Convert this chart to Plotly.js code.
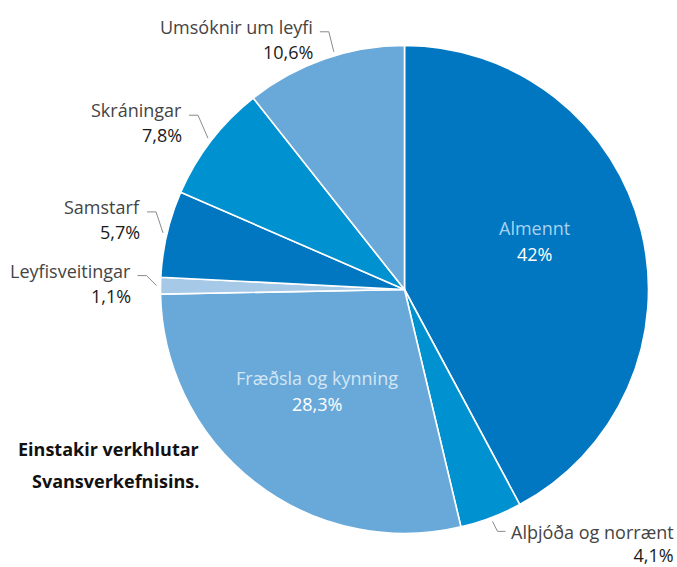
<!DOCTYPE html>
<html>
<head>
<meta charset="utf-8">
<script src="https://cdn.plot.ly/plotly-3.0.1.min.js"></script>
<style>
  html, body { margin: 0; padding: 0; background: #fff; }
  #chart { width: 677px; height: 567px; }
</style>
</head>
<body>
<div id="chart"></div>
<script>
var categories = ['Almennt', 'Alþjóða og norrænt', 'Fræðsla og kynning', 'Leyfisveitingar', 'Samstarf', 'Skráningar', 'Umsóknir um leyfi'];
var shares = [42, 4.1, 28.3, 1.1, 5.7, 7.8, 10.6];
var shareLabels = ['42%', '4,1%', '28,3%', '1,1%', '5,7%', '7,8%', '10,6%'];
var titleLines = ['Einstakir verkhlutar', 'Svansverkefnisins.'];

var sliceColors = ['#0077c0', '#0091d0', '#69a9d9', '#a6c9e8', '#0077c0', '#0091d0', '#69a9d9'];
var insideNameColors = {0: '#a9d2f1', 2: '#d4e6f5'};
// inside label placement: [angle shift deg, radius fraction]
var insideSpots = {0: [-6.3, 0.57], 2: [3, 0.55]};
// leader for outside labels: [angle shift deg, kink dx px, kink dy px]
var leaderKinks = {1: [0, 5, 10], 3: [0, -10, -10], 4: [0, -7, -21], 5: [0, -10, -23], 6: [2.6, -5, -20]};

var W = 677, H = 567;
var cx = 404.5, cy = 289.5, R = 244;
var font = 'Open Sans, Noto Sans, sans-serif';
var fs = 18;

function px(x) { return x / W; }
function py(y) { return 1 - y / H; }

function polar(angleDeg, r) {
  var a = angleDeg * Math.PI / 180;
  return [cx + r * Math.sin(a), cy - r * Math.cos(a)];
}

var total = shares.reduce(function(a, b) { return a + b; }, 0);
var midAngles = [];
var acc = 0;
shares.forEach(function(v) {
  midAngles.push((acc + v / 2) / total * 360);
  acc += v;
});

var annotations = [];
var shapes = [];

midAngles.forEach(function(ang, i) {
  if (insideNameColors[i]) {
    var s = insideSpots[i];
    var p = polar(ang + s[0], R * s[1]);
    annotations.push({
      x: px(p[0]), y: py(p[1] - 13), xref: 'paper', yref: 'paper',
      text: categories[i], showarrow: false, xanchor: 'center', yanchor: 'middle',
      font: {family: font, size: fs, color: insideNameColors[i]}
    });
    annotations.push({
      x: px(p[0]), y: py(p[1] + 13), xref: 'paper', yref: 'paper',
      text: shareLabels[i], showarrow: false, xanchor: 'center', yanchor: 'middle',
      font: {family: font, size: fs, color: '#ffffff'}
    });
    return;
  }
  var k = leaderKinks[i];
  var e = polar(ang + k[0], R + 4);
  var kx = e[0] + k[1], ky = e[1] + k[2];
  var right = ang < 180;
  var hx = right ? kx + 8 : kx - 9;
  shapes.push({
    type: 'path', xref: 'paper', yref: 'paper',
    path: 'M ' + px(e[0]) + ' ' + py(e[1]) + ' L ' + px(kx) + ' ' + py(ky) + ' L ' + px(hx) + ' ' + py(ky),
    line: {color: '#8a8a8a', width: 1}
  });
  if (right) {
    annotations.push({
      x: px(hx + 4), y: py(ky - 13), xref: 'paper', yref: 'paper',
      text: categories[i] + '<br><span style="color:#1a1a1a">' + shareLabels[i] + '</span>',
      showarrow: false, xanchor: 'left', yanchor: 'top', align: 'right',
      font: {family: font, size: fs, color: '#444'}
    });
  } else {
    annotations.push({
      x: px(hx - 5), y: py(ky - 5), xref: 'paper', yref: 'paper',
      text: categories[i], showarrow: false, xanchor: 'right', yanchor: 'middle',
      font: {family: font, size: fs, color: '#444'}
    });
    annotations.push({
      x: px(hx - 5), y: py(ky + 20), xref: 'paper', yref: 'paper',
      text: shareLabels[i], showarrow: false, xanchor: 'right', yanchor: 'middle',
      font: {family: font, size: fs, color: '#1a1a1a'}
    });
  }
});

titleLines.forEach(function(t, i) {
  annotations.push({
    x: px(201), y: py(449 + i * 32), xref: 'paper', yref: 'paper',
    text: t, showarrow: false, xanchor: 'right', yanchor: 'middle',
    font: {family: font, size: fs, color: '#111', weight: 700}
  });
});

var trace = {
  type: 'pie',
  values: shares,
  labels: categories,
  sort: false,
  direction: 'clockwise',
  rotation: 0,
  textinfo: 'none',
  hoverinfo: 'label+percent',
  showlegend: false,
  marker: {colors: sliceColors, line: {color: '#ffffff', width: 1.6}},
  domain: {x: [px(cx - R), px(cx + R)], y: [py(cy + R), py(cy - R)]}
};

var layout = {
  width: W,
  height: H,
  margin: {l: 0, r: 0, t: 0, b: 0},
  paper_bgcolor: '#ffffff',
  annotations: annotations,
  shapes: shapes
};

Plotly.newPlot('chart', [trace], layout, {displayModeBar: false, staticPlot: true});
</script>
</body>
</html>
